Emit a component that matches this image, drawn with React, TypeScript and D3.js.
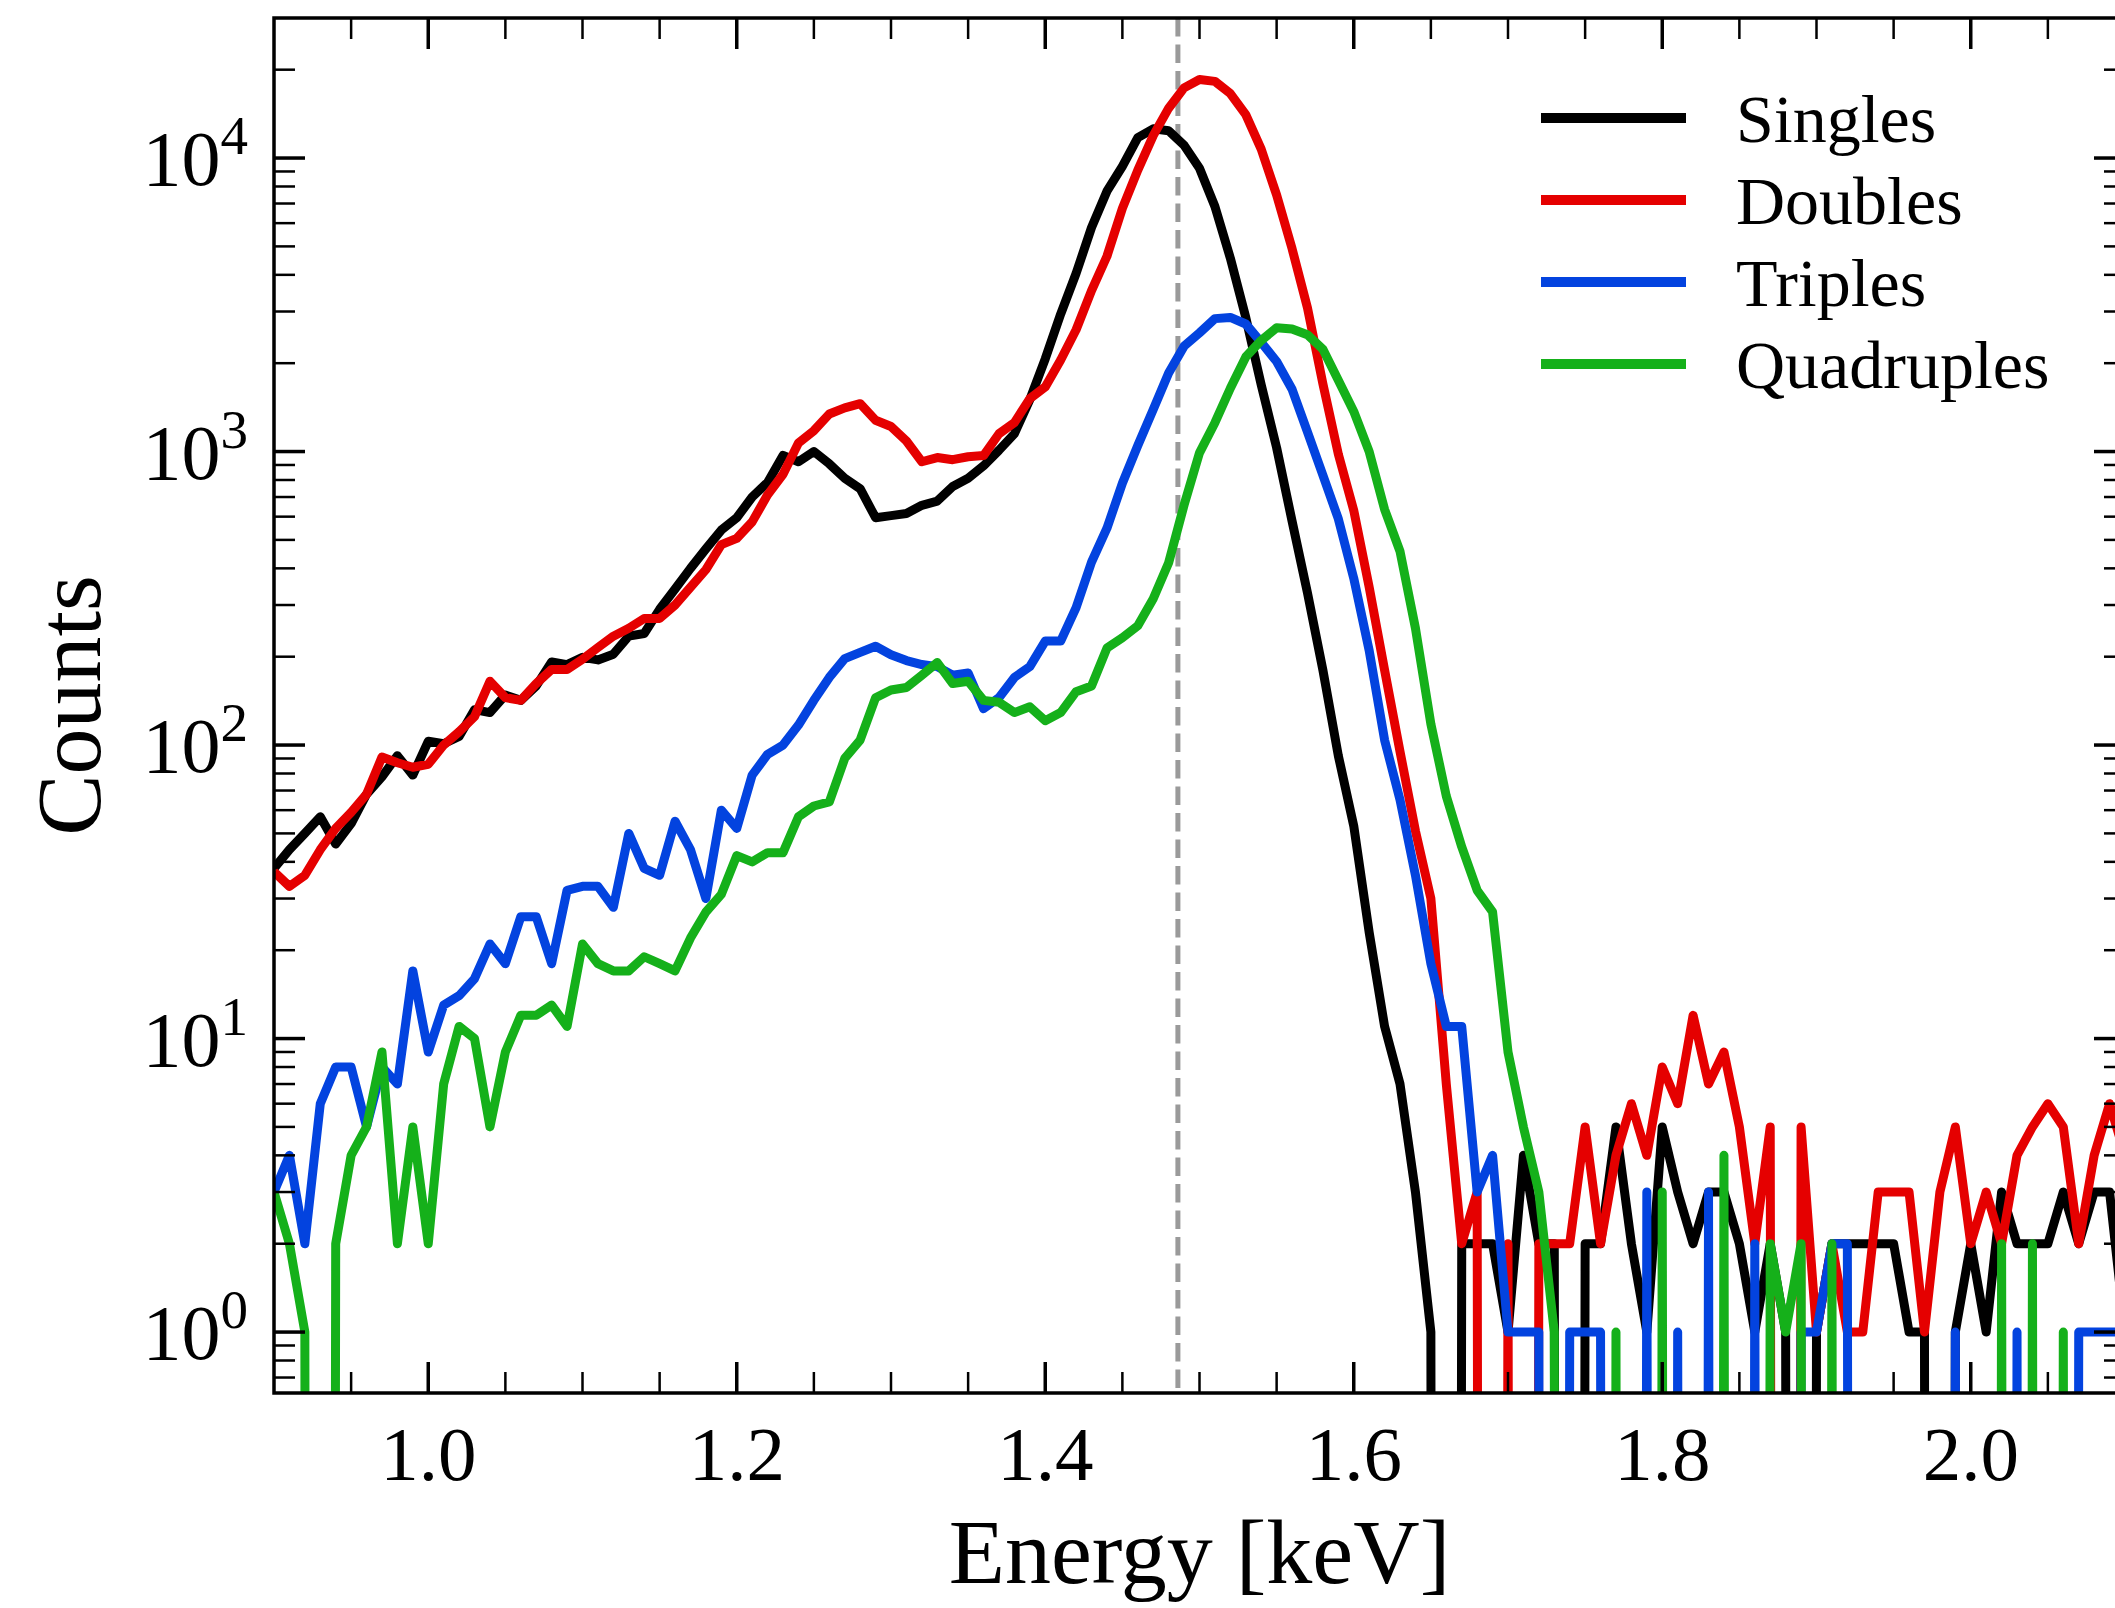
import React from 'react';
import * as d3 from 'd3';

// Energy bins: first bin centre and bin width (keV)
const BIN_START = 0.9;
const BIN_WIDTH = 0.01;

// Counts per 10 eV bin, 0.90 .. 2.10 keV
const singles = [
  38, 44, 50, 57, 46, 54, 68, 78, 92, 79,
  103, 101, 107, 132, 129, 148, 142, 159, 192, 188,
  199, 195, 204, 235, 240, 290, 340, 400, 466, 540,
  595, 700, 785, 970, 923, 1000, 908, 811, 747, 595,
  605, 615, 656, 678, 760, 811, 894, 1010, 1150, 1503,
  2070, 2940, 4045, 5797, 7709, 9371, 11735, 12576, 12390, 11050,
  9230, 6837, 4558, 2863, 1690, 1030, 580, 330, 180, 92,
  53, 23, 11, 7, 3, 1, 0, 2, 2, 2,
  1, 4, 2, 2, 0, 2, 2, 5, 2, 1,
  5, 3, 2, 3, 3, 2, 1, 2, 1, 0,
  1, 2, 2, 2, 2, 2, 1, 1, 0, 1,
  2, 1, 3, 2, 2, 2, 3, 2, 3, 3,
  1,
];

const doubles = [
  37, 33, 36, 44, 52, 59, 68, 91, 87, 84,
  86, 100, 111, 125, 165, 145, 142, 162, 181, 181,
  196, 215, 235, 250, 270, 270, 300, 345, 396, 482,
  506, 576, 712, 837, 1069, 1178, 1342, 1409, 1456, 1278,
  1217, 1086, 923, 954, 938, 960, 969, 1150, 1255, 1515,
  1660, 2050, 2600, 3532, 4628, 6734, 9093, 11920, 14790, 17340,
  18520, 18250, 16580, 14050, 10720, 7480, 4915, 3086, 1700, 980,
  630, 345, 180, 95, 51, 30, 7, 2, 3, 0,
  2, 0, 2, 2, 2, 5, 2, 4, 6, 4,
  8, 6, 12, 7, 9, 5, 2, 5, 0, 5,
  1, 2, 1, 1, 3, 3, 3, 1, 3, 5,
  2, 3, 2, 4, 5, 6, 5, 2, 4, 6,
  4,
];

const triples = [
  3, 4, 2, 6, 8, 8, 5, 8, 7, 17,
  9, 13, 14, 16, 21, 18, 26, 26, 18, 32,
  33, 33, 28, 50, 38, 36, 55, 44, 30, 60,
  52, 79, 93, 100, 117, 142, 170, 197, 207, 217,
  203, 194, 188, 185, 173, 176, 133, 145, 170, 185,
  226, 226, 294, 420, 548, 780, 1049, 1390, 1852, 2286,
  2538, 2837, 2863, 2720, 2355, 2027, 1630, 1165, 830, 590,
  370, 210, 104, 65, 36, 18, 11, 11, 3, 4,
  1, 1, 1, 0, 1, 1, 1, 0, 0, 3,
  0, 1, 0, 3, 0, 0, 2, 0, 0, 1,
  1, 2, 2, 0, 0, 0, 0, 0, 0, 1,
  0, 0, 0, 1, 0, 0, 0, 1, 1, 1,
  1,
];

const quadruples = [
  3, 2, 1, 0, 2, 4, 5, 9, 2, 5,
  2, 7, 11, 10, 5, 9, 12, 12, 13, 11,
  21, 18, 17, 17, 19, 18, 17, 22, 27, 31,
  42, 40, 43, 43, 57, 62, 64, 90, 104, 145,
  154, 157, 173, 191, 162, 165, 142, 140, 129, 135,
  121, 129, 152, 159, 214, 232, 255, 315, 418, 657,
  990, 1254, 1643, 2101, 2391, 2640, 2616, 2501, 2231, 1750,
  1370, 1000, 635, 457, 250, 118, 67, 45, 32, 27,
  9, 5, 3, 1, 0, 0, 0, 1, 0, 0,
  3, 0, 0, 0, 4, 0, 0, 2, 1, 2,
  0, 2, 0, 0, 0, 0, 0, 0, 0, 0,
  0, 0, 2, 0, 2, 0, 1, 0, 0, 0,
  0,
];

const seriesNames = ['Singles', 'Doubles', 'Triples', 'Quadruples'];
const seriesColors = ['#000000', '#e50000', '#0343df', '#15b01a'];
const seriesData = [singles, doubles, triples, quadruples];

const xTickLabels = ['1.0', '1.2', '1.4', '1.6', '1.8', '2.0'];
const yTickExponents = [0, 1, 2, 3, 4];

// Al K-alpha line
const referenceEnergy = 1.486;

const WIDTH = 2115;
const HEIGHT = 1608;
const plot = { left: 274, top: 18, right: 2125, bottom: 1393 };
const FONT = "'Liberation Serif', 'Times New Roman', Times, serif";

export default function App() {
  const x = d3.scaleLinear().domain([0.9, 2.1]).range([plot.left, plot.right]);
  const y = d3.scaleLog().domain([0.62, 30000]).range([plot.bottom, plot.top]);

  const energies = singles.map((_, i) => BIN_START + BIN_WIDTH * i);
  // empty bins drop off the bottom of a log axis
  const line = d3
    .line<number>()
    .x((_, i) => x(energies[i]))
    .y((v) => y(v > 0 ? v : 1e-30));

  const majorLen = 31;
  const minorLen = 21;

  const xMinor: number[] = [];
  for (let k = 19; k <= 41; k++) {
    if (k % 4 !== 0) xMinor.push(k * 0.05);
  }
  const xMajor = xTickLabels.map((t) => +t);

  const yMinor: number[] = [];
  for (let d = -1; d <= 4; d++) {
    for (let m = 2; m <= 9; m++) {
      const v = m * Math.pow(10, d);
      if (v > 0.62 && v < 29000) yMinor.push(v);
    }
  }

  const tickStroke = '#000';

  return (
    <svg
      width={WIDTH}
      height={HEIGHT}
      viewBox={`0 0 ${WIDTH} ${HEIGHT}`}
      style={{ position: 'absolute', left: 0, top: 0, background: '#fff' }}
    >
      <defs>
        <clipPath id="plot-area">
          <rect x={plot.left} y={plot.top} width={plot.right - plot.left} height={plot.bottom - plot.top} />
        </clipPath>
      </defs>
      <rect x={0} y={0} width={WIDTH} height={HEIGHT} fill="#fff" />

      <g clipPath="url(#plot-area)">
        <line
          x1={x(referenceEnergy)}
          x2={x(referenceEnergy)}
          y1={plot.top}
          y2={plot.bottom}
          stroke="#9a9a9a"
          strokeWidth={5}
          strokeDasharray="18.5 8"
        />
        {seriesData.map((data, s) => (
          <path
            key={seriesNames[s]}
            d={line(data) || ''}
            fill="none"
            stroke={seriesColors[s]}
            strokeWidth={9}
            strokeLinejoin="round"
            strokeLinecap="butt"
          />
        ))}
      </g>

      {/* ticks, pointing inward on all four sides */}
      <g stroke={tickStroke}>
        {xMajor.map((v) => (
          <g key={`xM${v}`}>
            <line x1={x(v)} x2={x(v)} y1={plot.bottom} y2={plot.bottom - majorLen} strokeWidth={3.5} />
            <line x1={x(v)} x2={x(v)} y1={plot.top} y2={plot.top + majorLen} strokeWidth={3.5} />
          </g>
        ))}
        {xMinor.map((v) => (
          <g key={`xm${v}`}>
            <line x1={x(v)} x2={x(v)} y1={plot.bottom} y2={plot.bottom - minorLen} strokeWidth={2.5} />
            <line x1={x(v)} x2={x(v)} y1={plot.top} y2={plot.top + minorLen} strokeWidth={2.5} />
          </g>
        ))}
        {yTickExponents.map((e) => {
          const yy = y(Math.pow(10, e));
          return (
            <g key={`yM${e}`}>
              <line x1={plot.left} x2={plot.left + majorLen} y1={yy} y2={yy} strokeWidth={3.5} />
              <line x1={plot.right} x2={plot.right - majorLen} y1={yy} y2={yy} strokeWidth={3.5} />
            </g>
          );
        })}
        {yMinor.map((v) => {
          const yy = y(v);
          return (
            <g key={`ym${v}`}>
              <line x1={plot.left} x2={plot.left + minorLen} y1={yy} y2={yy} strokeWidth={2.5} />
              <line x1={plot.right} x2={plot.right - minorLen} y1={yy} y2={yy} strokeWidth={2.5} />
            </g>
          );
        })}
      </g>

      <rect
        x={plot.left}
        y={plot.top}
        width={plot.right - plot.left}
        height={plot.bottom - plot.top}
        fill="none"
        stroke="#000"
        strokeWidth={3.5}
      />

      {/* tick labels */}
      <g fontFamily={FONT} fill="#000">
        {xTickLabels.map((t) => (
          <text key={`xl${t}`} x={x(+t)} y={1480} fontSize={77} textAnchor="middle">
            {t}
          </text>
        ))}
        {yTickExponents.map((e) => (
          <text key={`yl${e}`} x={248} y={y(Math.pow(10, e)) + 27} fontSize={78} textAnchor="end">
            <tspan>10</tspan>
            <tspan fontSize={55} dy={-31}>
              {e}
            </tspan>
          </text>
        ))}
      </g>

      {/* axis titles */}
      <text
        x={(plot.left + plot.right) / 2}
        y={1583}
        fontFamily={FONT}
        fontSize={92}
        textAnchor="middle"
      >
        Energy [keV]
      </text>
      <text
        transform={`translate(100, ${(plot.top + plot.bottom) / 2}) rotate(-90)`}
        fontFamily={FONT}
        fontSize={92}
        textAnchor="middle"
      >
        Counts
      </text>

      {/* legend */}
      <g fontFamily={FONT}>
        {seriesNames.map((name, s) => {
          const ly = 118 + s * 82;
          return (
            <g key={`lg${name}`}>
              <line x1={1541} x2={1686} y1={ly} y2={ly} stroke={seriesColors[s]} strokeWidth={10} />
              <text x={1736} y={ly + 24} fontSize={68}>
                {name}
              </text>
            </g>
          );
        })}
      </g>
    </svg>
  );
}
